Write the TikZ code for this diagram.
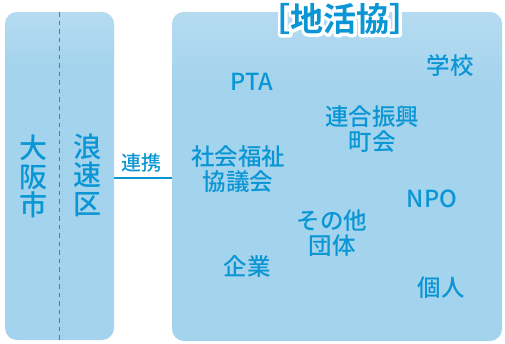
\documentclass[tikz,border=0pt]{standalone}
\usepackage{fontspec}
\setmainfont{Noto Sans CJK JP}[UprightFont={* Medium},BoldFont={* Bold}]
\definecolor{txtblue}{RGB}{10,150,212}
\definecolor{boxblue}{RGB}{163,211,237}
\definecolor{boxlight}{RGB}{200,228,245}
\newcommand{\haloText}[1]{\rlap{\special{pdf:literal direct q 2 Tr 6 w 1 j 1 1 1 RG 1 1 1 rg}#1\special{pdf:literal direct 0 Tr Q}}#1}
\tikzset{
  panel/.style={fill=boxblue, draw=none, rounded corners=12pt},
  lbl/.style={text=txtblue, font=\fontsize{23.5}{25}\selectfont, align=center, inner sep=0pt},
  vlbl/.style={text=txtblue, font=\fontsize{28}{28.5}\selectfont, align=center, inner sep=0pt},
  ttl/.style={text=txtblue, font=\fontsize{33}{33}\selectfont\bfseries, inner sep=0pt},
}
\begin{document}
\begin{tikzpicture}[x=1pt,y=-1pt]
\useasboundingbox (0,0) rectangle (505,343);
% panels
\path[panel] (5,12) rectangle (114,340);
\path[panel] (172,12) rectangle (502,341);
\shade[top color=boxlight, bottom color=boxblue, opacity=0.5, rounded corners=12pt] (172,12) rectangle (502,90);
\shade[top color=boxlight, bottom color=boxblue, opacity=0.5, rounded corners=12pt] (5,12) rectangle (114,70);
% dashed divider
\coordinate (dtop) at (59.5,12);
\coordinate (dbot) at (59.5,343);
\draw[txtblue, line width=1pt, dash pattern=on 4.5pt off 4pt] (dtop) -- (dbot);
% left labels
\node[vlbl] (osaka) at (33.5,176.5) {大\\阪\\市};
\node[vlbl] (naniwa) at (87.5,175) {浪\\速\\区};
% connector
\coordinate (lft) at (114,177.5);
\coordinate (rgt) at (172,177.5);
\draw[txtblue, line width=2pt] (lft) -- (rgt);
\node[lbl, font=\fontsize{20}{20}\selectfont] (renkei) at (141.5,163) {連携};
% title with halo
\node[ttl] (title) at (340,19) {\haloText{［地活協］}};
% right labels
\node[lbl] (pta) at (252,82) {PTA};
\node[lbl] (gakko) at (450,66) {学校};
\node[lbl] (rengo) at (372,129.5) {連合振興\\町会};
\node[lbl] (shakyo) at (238,169.5) {社会福祉\\協議会};
\node[lbl] (npo) at (432,199) {NPO};
\node[lbl] (sonota) at (332,233.5) {その他\\団体};
\node[lbl] (kigyo) at (247,267) {企業};
\node[lbl] (kojin) at (441,288) {個人};
\end{tikzpicture}
\end{document}
